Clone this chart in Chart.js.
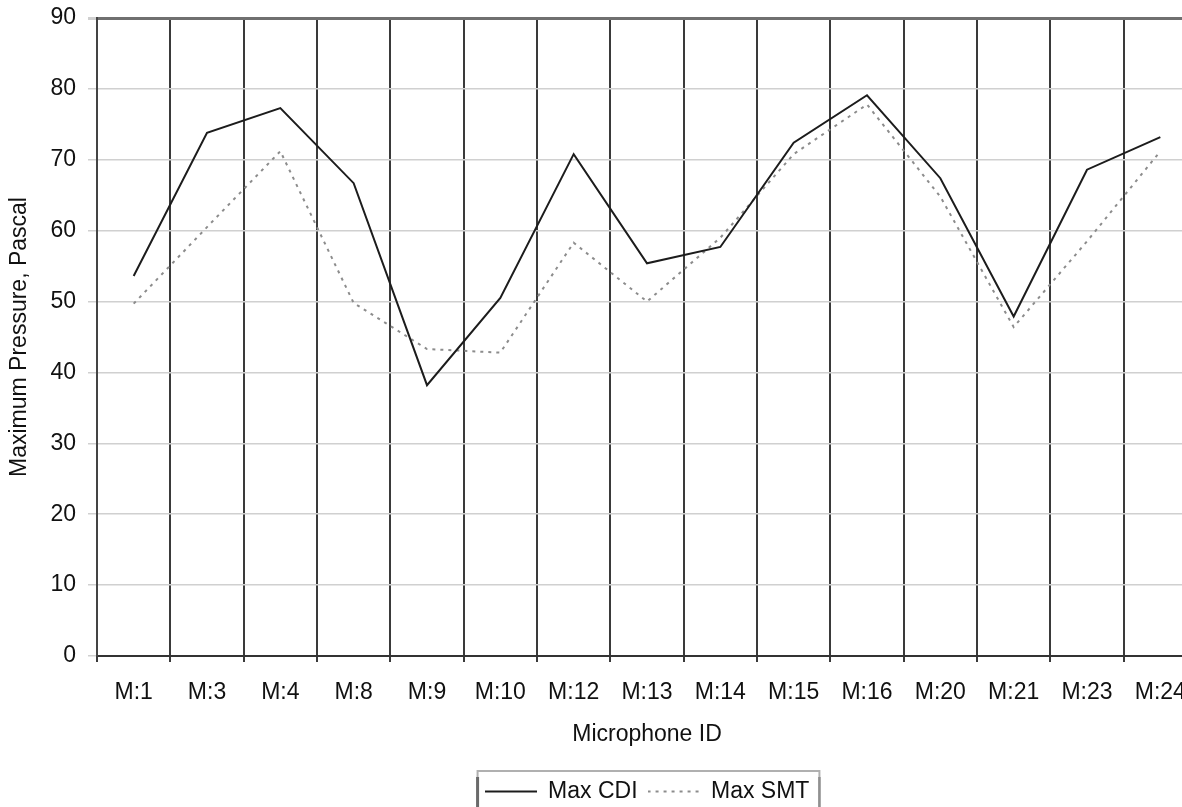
<!DOCTYPE html>
<html>
<head>
<meta charset="utf-8">
<script src="https://cdn.jsdelivr.net/npm/chart.js@4/dist/chart.umd.min.js"></script>
<style>
html,body{margin:0;padding:0;overflow:hidden;background:#fff;}
#wrap{width:1200px;height:813px;}
</style>
</head>
<body>
<div id="wrap"><canvas id="c" width="1200" height="813"></canvas></div>
<script>
const categories = ["M:1","M:3","M:4","M:8","M:9","M:10","M:12","M:13","M:14","M:15","M:16","M:20","M:21","M:23","M:24"];
const maxCDI = [53.6, 73.8, 77.3, 66.7, 38.2, 50.5, 70.8, 55.4, 57.7, 72.4, 79.1, 67.4, 47.9, 68.6, 73.2];
const maxSMT = [49.7, 60.5, 71.2, 49.8, 43.3, 42.8, 58.3, 50.0, 59.0, 70.8, 77.8, 64.8, 46.4, 58.5, 71.2];
const yMin = 0, yMax = 90, yStep = 10;
const seriesNames = ["Max CDI", "Max SMT"];

const FONT = "'Liberation Sans', Arial, sans-serif";

function legendGlyph(color, dash) {
  const cv = document.createElement('canvas');
  cv.width = 52; cv.height = 4;
  const g = cv.getContext('2d');
  g.strokeStyle = color;
  g.lineWidth = 2;
  g.setLineDash(dash);
  g.beginPath();
  g.moveTo(0, 2); g.lineTo(52, 2);
  g.stroke();
  return cv;
}

const legendBorder = {
  id: 'legendBorder',
  afterDraw(chart) {
    const lg = chart.legend;
    if (!lg || !lg.legendHitBoxes || !lg.legendHitBoxes.length) return;
    const hb = lg.legendHitBoxes;
    const first = hb[0], last = hb[hb.length - 1];
    const l = first.left - 7, r = last.left + last.width + 10, t = first.top - 9, b = chart.height + 5;
    const ctx = chart.ctx;
    ctx.save();
    ctx.setLineDash([]);
    ctx.strokeStyle = '#b0b0b0';
    ctx.lineWidth = 2;
    ctx.beginPath();
    ctx.moveTo(l, b); ctx.lineTo(l, t); ctx.lineTo(r, t); ctx.lineTo(r, b);
    ctx.stroke();
    ctx.strokeStyle = '#6a6a6a';
    ctx.lineWidth = 3;
    ctx.beginPath();
    ctx.moveTo(l, t + 6); ctx.lineTo(l, b);
    ctx.stroke();
    ctx.strokeStyle = '#909090';
    ctx.lineWidth = 2.5;
    ctx.beginPath();
    ctx.moveTo(r, t + 6); ctx.lineTo(r, b);
    ctx.stroke();
    ctx.restore();
  }
};

new Chart(document.getElementById('c'), {
  type: 'line',
  data: {
    labels: categories,
    datasets: [
      { label: seriesNames[0], data: maxCDI, borderColor: '#1c1c1c', backgroundColor: '#1c1c1c', borderWidth: 2, pointRadius: 0, pointStyle: legendGlyph('#1c1c1c', []), tension: 0, fill: false },
      { label: seriesNames[1], data: maxSMT, borderColor: '#8c8c8c', backgroundColor: '#8c8c8c', borderWidth: 2, borderDash: [3, 5], pointRadius: 0, pointStyle: legendGlyph('#8c8c8c', [3, 5]), tension: 0, fill: false }
    ]
  },
  options: {
    responsive: false,
    animation: false,
    devicePixelRatio: 1,
    layout: { padding: { top: 18, right: 3, left: 0, bottom: 0 } },
    plugins: {
      tooltip: { enabled: false },
      legend: {
        position: 'bottom',
        fullSize: false,
        labels: {
          usePointStyle: true,
          pointStyleWidth: 52,
          padding: 10,
          color: '#111',
          font: { family: FONT, size: 23 }
        }
      }
    },
    scales: {
      x: {
        type: 'category',
        offset: true,
        afterFit(scale) { scale.height = 114; scale.paddingLeft = 0; scale.paddingRight = 0; },
        grid: { offset: true, color: '#3a3a3a', lineWidth: 2, tickLength: 6, tickColor: '#3a3a3a', drawOnChartArea: true },
        border: { display: true, color: '#333', width: 2 },
        ticks: { color: '#111', padding: 17, font: { family: FONT, size: 23 }, maxRotation: 0, autoSkip: false },
        title: { display: true, text: 'Microphone ID', color: '#111', font: { family: FONT, size: 23 }, padding: { top: 14.6, bottom: 21.2 } }
      },
      y: {
        min: yMin, max: yMax,
        afterFit(scale) { scale.width = 97; scale.paddingTop = 0; scale.paddingBottom = 0; },
        grid: {
          color: (c) => (c.tick && c.tick.value === yMax) ? '#707070' : '#d0d0d0',
          lineWidth: (c) => (c.tick && c.tick.value === yMax) ? 3 : 1.5,
          tickLength: 9,
          tickColor: '#d0d0d0'
        },
        border: { display: true, color: '#444', width: 2 },
        ticks: { stepSize: yStep, color: '#111', padding: 12, font: { family: FONT, size: 23 } },
        title: { display: true, text: 'Maximum Pressure, Pascal', color: '#111', font: { family: FONT, size: 23 }, padding: { top: 6, bottom: 4 } }
      }
    }
  },
  plugins: [legendBorder]
});
</script>
</body>
</html>
